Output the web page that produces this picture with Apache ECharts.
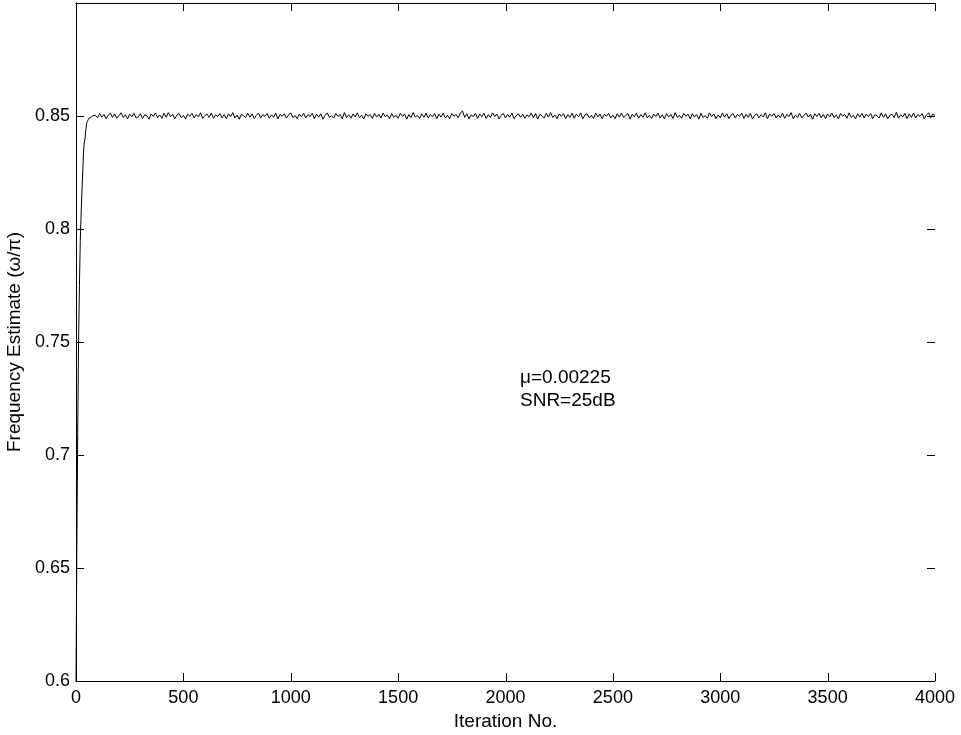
<!DOCTYPE html>
<html>
<head>
<meta charset="utf-8">
<script src="https://cdn.jsdelivr.net/npm/echarts@6/dist/echarts.min.js"></script>
<style>
html,body{margin:0;padding:0;background:#fff;}
#chart{width:961px;height:735px;}
</style>
</head>
<body>
<div id="chart"></div>
<script>
// Transient (start-up) part of the estimate: iteration numbers and values
var transientIter = [0, 4, 8, 12, 16, 20, 25, 30, 35, 38, 42, 46, 50, 55, 60, 70, 80];
var transientVal  = [0.600, 0.660, 0.710, 0.750, 0.775, 0.795, 0.810, 0.822, 0.834, 0.838, 0.840, 0.844, 0.847, 0.848, 0.849, 0.8495, 0.8502];

// Steady-state part, sampled every 10 iterations from iteration 90 to 4000
var steadyStart = 90;
var steadyStep = 10;
var steadyVal = [
0.8503,0.8492,0.8511,0.8495,0.8507,0.8488,0.8504,0.8513,0.8494,0.8509,0.8490,0.8502,0.8514,0.8493,0.8505,0.8487,0.8508,0.8497,0.8512,0.8491,
0.8496,0.8510,0.8489,0.8506,0.8501,0.8486,0.8509,0.8498,0.8513,0.8492,0.8505,0.8490,0.8512,0.8494,0.8515,0.8497,0.8507,0.8488,0.8504,0.8511,
0.8493,0.8503,0.8487,0.8508,0.8499,0.8512,0.8491,0.8506,0.8496,0.8514,0.8489,0.8502,0.8509,0.8494,0.8513,0.8490,0.8505,0.8498,0.8511,0.8492,
0.8506,0.8488,0.8510,0.8497,0.8515,0.8491,0.8504,0.8486,0.8508,0.8501,0.8493,0.8512,0.8495,0.8509,0.8489,0.8503,0.8513,0.8492,0.8506,0.8498,
0.8511,0.8490,0.8505,0.8494,0.8513,0.8487,0.8507,0.8499,0.8510,0.8491,0.8504,0.8514,0.8493,0.8502,0.8488,0.8509,0.8496,0.8512,0.8492,0.8506,
0.8497,0.8512,0.8489,0.8508,0.8495,0.8510,0.8486,0.8504,0.8513,0.8494,0.8501,0.8491,0.8511,0.8498,0.8507,0.8488,0.8515,0.8493,0.8505,0.8490,
0.8509,0.8496,0.8514,0.8492,0.8503,0.8487,0.8510,0.8499,0.8506,0.8489,0.8512,0.8495,0.8508,0.8491,0.8513,0.8497,0.8505,0.8488,0.8511,0.8494,
0.8504,0.8490,0.8512,0.8498,0.8509,0.8486,0.8506,0.8493,0.8515,0.8496,0.8502,0.8489,0.8510,0.8494,0.8513,0.8491,0.8507,0.8497,0.8511,0.8488,
0.8508,0.8495,0.8513,0.8491,0.8503,0.8488,0.8511,0.8499,0.8507,0.8492,0.8514,0.8522,0.8494,0.8510,0.8487,0.8505,0.8497,0.8512,0.8490,0.8509,
0.8496,0.8512,0.8489,0.8506,0.8493,0.8514,0.8498,0.8509,0.8487,0.8504,0.8511,0.8491,0.8507,0.8495,0.8513,0.8488,0.8502,0.8510,0.8494,0.8508,
0.8490,0.8505,0.8497,0.8513,0.8492,0.8511,0.8486,0.8507,0.8501,0.8491,0.8512,0.8495,0.8515,0.8493,0.8504,0.8488,0.8509,0.8498,0.8510,0.8489,
0.8506,0.8494,0.8512,0.8490,0.8508,0.8497,0.8514,0.8487,0.8505,0.8510,0.8492,0.8503,0.8489,0.8513,0.8496,0.8509,0.8488,0.8507,0.8499,0.8511,
0.8491,0.8504,0.8488,0.8510,0.8495,0.8513,0.8493,0.8502,0.8511,0.8486,0.8508,0.8497,0.8512,0.8490,0.8506,0.8494,0.8514,0.8492,0.8503,0.8489,
0.8509,0.8498,0.8513,0.8491,0.8505,0.8487,0.8511,0.8496,0.8507,0.8489,0.8515,0.8494,0.8503,0.8490,0.8512,0.8499,0.8508,0.8488,0.8510,0.8495,
0.8506,0.8486,0.8512,0.8493,0.8502,0.8490,0.8514,0.8497,0.8509,0.8488,0.8505,0.8492,0.8513,0.8495,0.8510,0.8489,0.8504,0.8511,0.8491,0.8507,
0.8498,0.8513,0.8489,0.8508,0.8494,0.8512,0.8487,0.8503,0.8510,0.8492,0.8506,0.8496,0.8514,0.8488,0.8509,0.8499,0.8511,0.8491,0.8505,0.8493,
0.8512,0.8490,0.8507,0.8497,0.8515,0.8488,0.8504,0.8493,0.8511,0.8491,0.8502,0.8513,0.8495,0.8508,0.8486,0.8510,0.8498,0.8512,0.8492,0.8506,
0.8489,0.8509,0.8496,0.8513,0.8492,0.8505,0.8487,0.8511,0.8499,0.8507,0.8490,0.8514,0.8494,0.8503,0.8488,0.8510,0.8495,0.8512,0.8491,0.8508,
0.8497,0.8511,0.8488,0.8506,0.8501,0.8491,0.8514,0.8494,0.8510,0.8487,0.8504,0.8508,0.8493,0.8517,0.8490,0.8505,0.8496,0.8512,0.8489,0.8509,
0.8494,0.8513,0.8491,0.8507,0.8498,0.8511,0.8488,0.8505,0.8514,0.8493,0.8509,0.8503
];

var xTicks = [0, 500, 1000, 1500, 2000, 2500, 3000, 3500, 4000];
var yTicks = [0.6, 0.65, 0.7, 0.75, 0.8, 0.85, 0.9];
var yTickLabels = ['0.6', '0.65', '0.7', '0.75', '0.8', '0.85'];
var annotationLines = ['\u03bc=0.00225', 'SNR=25dB'];

var seriesData = [];
for (var i = 0; i < transientIter.length; i++) seriesData.push([transientIter[i], transientVal[i]]);
for (var j = 0; j < steadyVal.length; j++) seriesData.push([steadyStart + j * steadyStep, steadyVal[j]]);

var FONT = '"Liberation Sans", Arial, Helvetica, sans-serif';
var TICK = 8;

function lineStyleObj() { return {color: '#000', width: 1}; }

function yFmt(v) {
  var s = String(+v.toFixed(2));
  return yTickLabels.indexOf(s) >= 0 ? s : '';
}

var xMin = xTicks[0], xMax = xTicks[xTicks.length - 1];
var yMin = yTicks[0], yMax = yTicks[yTicks.length - 1];

var chart = echarts.init(document.getElementById('chart'), null, {renderer: 'canvas'});
chart.setOption({
  animation: false,
  backgroundColor: '#fff',
  grid: {left: 76, right: 26, top: 3, bottom: 54, containLabel: false, outerBoundsMode: 'none'},
  xAxis: [{
    type: 'value', min: xMin, max: xMax, interval: 500,
    position: 'bottom',
    name: 'Iteration No.', nameLocation: 'middle', nameGap: 28,
    nameTextStyle: {fontFamily: FONT, fontSize: 19, color: '#000'},
    axisLine: {show: true, lineStyle: lineStyleObj()},
    axisTick: {show: false},
    axisLabel: {show: true, margin: 8, fontFamily: FONT, fontSize: 18, color: '#000',
      formatter: function (v) { return String(v); },
      showMinLabel: true, showMaxLabel: true},
    splitLine: {show: false}
  }, {
    type: 'value', min: xMin, max: xMax, interval: 500,
    position: 'top',
    axisLine: {show: true, lineStyle: lineStyleObj()},
    axisTick: {show: false},
    axisLabel: {show: false},
    splitLine: {show: false}
  }],
  yAxis: [{
    type: 'value', min: yMin, max: yMax, interval: 0.05,
    position: 'left',
    name: 'Frequency Estimate (\u03c9/\u03c0)', nameLocation: 'middle', nameGap: 50,
    nameTextStyle: {fontFamily: FONT, fontSize: 19, color: '#000'},
    axisLine: {show: true, lineStyle: lineStyleObj()},
    axisTick: {show: false},
    axisLabel: {show: true, margin: 6, fontFamily: FONT, fontSize: 18, color: '#000', formatter: yFmt,
      showMinLabel: true, showMaxLabel: true},
    splitLine: {show: false}
  }, {
    type: 'value', min: yMin, max: yMax, interval: 0.05,
    position: 'right',
    axisLine: {show: true, lineStyle: lineStyleObj()},
    axisTick: {show: false},
    axisLabel: {show: false},
    splitLine: {show: false}
  }],
  series: [{
    type: 'line',
    xAxisIndex: 0, yAxisIndex: 0,
    data: seriesData,
    showSymbol: false,
    symbol: 'none',
    lineStyle: {color: '#000', width: 1},
    z: 3
  }]
});

// Inward tick marks on all four sides, positioned through the chart's own scales
(function () {
  var finder = {xAxisIndex: 0, yAxisIndex: 0};
  var els = [];
  function box(x, y, w, h) {
    els.push({type: 'rect', silent: true,
      shape: {x: x, y: y, width: w, height: h},
      style: {fill: '#000', stroke: null}});
  }
  xTicks.forEach(function (x) {
    var b = chart.convertToPixel(finder, [x, yMin]);
    var t = chart.convertToPixel(finder, [x, yMax]);
    var px = Math.round(b[0]);
    box(px, Math.round(b[1]) - TICK, 1, TICK);
    box(px, Math.round(t[1]), 1, TICK);
  });
  yTicks.forEach(function (y) {
    var l = chart.convertToPixel(finder, [xMin, y]);
    var r = chart.convertToPixel(finder, [xMax, y]);
    var py = Math.round(l[1]);
    box(Math.round(l[0]), py, TICK, 1);
    box(Math.round(r[0]) - TICK, py, TICK, 1);
  });
  els.push({
    type: 'text', left: 520, top: 366, silent: true,
    style: {text: annotationLines.join('\n'), font: '19px ' + FONT, fill: '#000', lineHeight: 23}
  });
  chart.setOption({graphic: els});
})();
</script>
</body>
</html>
